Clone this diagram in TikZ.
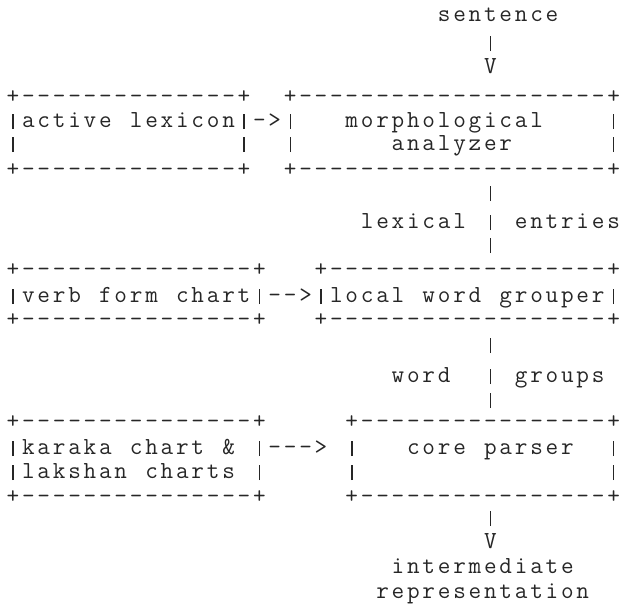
\documentclass[tikz,border=0pt]{standalone}
\usepackage{graphicx}
\tikzset{tt/.style={font=\fontsize{24.5pt}{24.5pt}\selectfont\ttfamily, inner sep=0pt, outer sep=0pt, anchor=base west, text=black!85}}
% vertical bar, as the typewriter prints it
\newcommand\vb{\rule[-2pt]{1.4pt}{15.5pt}}
% set a string one character per fixed-pitch cell (~ = blank cell)
\newcommand\ls[1]{\lsA#1\relax}
\def\lsA#1{\ifx\relax#1\else\lsB{#1}\expandafter\lsA\fi}
\def\lsB#1{\makebox[15.4pt][c]{\ifx|#1\vb\else#1\fi}}
\newcommand\txl[4]{\node[tt] (#1) at ({(5.3+15.4*#2)*1pt},{-(#3+6)*1pt}) {\ls{#4}};}
\begin{document}
\begin{tikzpicture}
\useasboundingbox (0,0) rectangle (624pt,-608pt);
% input
\txl{sent}{28}{15}{sentence}
\txl{s1}{31}{43}{|}
\txl{s2}{31}{67}{V}
% row 1 boxes
\txl{lexT}{0}{97}{+--------------+}
\txl{morT}{18}{97}{+--------------------+}
\txl{lexM}{0}{121}{|active~lexicon|}
\txl{arrA}{16}{121}{->}
\txl{morL1}{18}{121}{|}
\txl{morA}{22}{121}{morphological}
\txl{morR1}{39}{121}{|}
\txl{lexL2}{0}{144}{|}
\txl{lexR2}{15}{144}{|}
\txl{morL2}{18}{144}{|}
\txl{morB}{25}{144}{analyzer}
\txl{morR2}{39}{144}{|}
\txl{lexB}{0}{170}{+--------------+}
\txl{morBt}{18}{170}{+--------------------+}
% lexical entries
\txl{e1}{31}{193}{|}
\txl{lexl}{23}{222}{lexical}
\txl{e2}{31}{222}{|}
\txl{entr}{33}{222}{entries}
\txl{e3}{31}{245}{|}
% row 2 boxes
\txl{vfT}{0}{270}{+---------------+}
\txl{lwT}{20}{270}{+------------------+}
\txl{vfM}{0}{296}{|verb~form~chart|}
\txl{arrB}{17}{296}{-->}
\txl{lwM}{20}{296}{|local~word~grouper|}
\txl{vfB}{0}{320}{+---------------+}
\txl{lwB}{20}{320}{+------------------+}
% word groups
\txl{g1}{31}{345}{|}
\txl{wrd}{25}{376}{word}
\txl{g2}{31}{376}{|}
\txl{grp}{33}{376}{groups}
\txl{g3}{31}{400}{|}
% row 3 boxes
\txl{kkT}{0}{422}{+---------------+}
\txl{cpT}{22}{422}{+----------------+}
\txl{kkM}{0}{448}{|karaka~chart~\&~|}
\txl{arrC}{17}{448}{--->}
\txl{cpL1}{22}{448}{|}
\txl{cpA}{26}{448}{core~parser}
\txl{cpR1}{39}{448}{|}
\txl{kkN}{0}{472}{|lakshan~charts~|}
\txl{cpL2}{22}{472}{|}
\txl{cpR2}{39}{472}{|}
\txl{kkB}{0}{497}{+---------------+}
\txl{cpB}{22}{497}{+----------------+}
% output
\txl{o1}{31}{518}{|}
\txl{o2}{31}{542}{V}
\txl{inter}{25}{567}{intermediate}
\txl{repr}{24}{592}{representation}
\end{tikzpicture}
\end{document}
